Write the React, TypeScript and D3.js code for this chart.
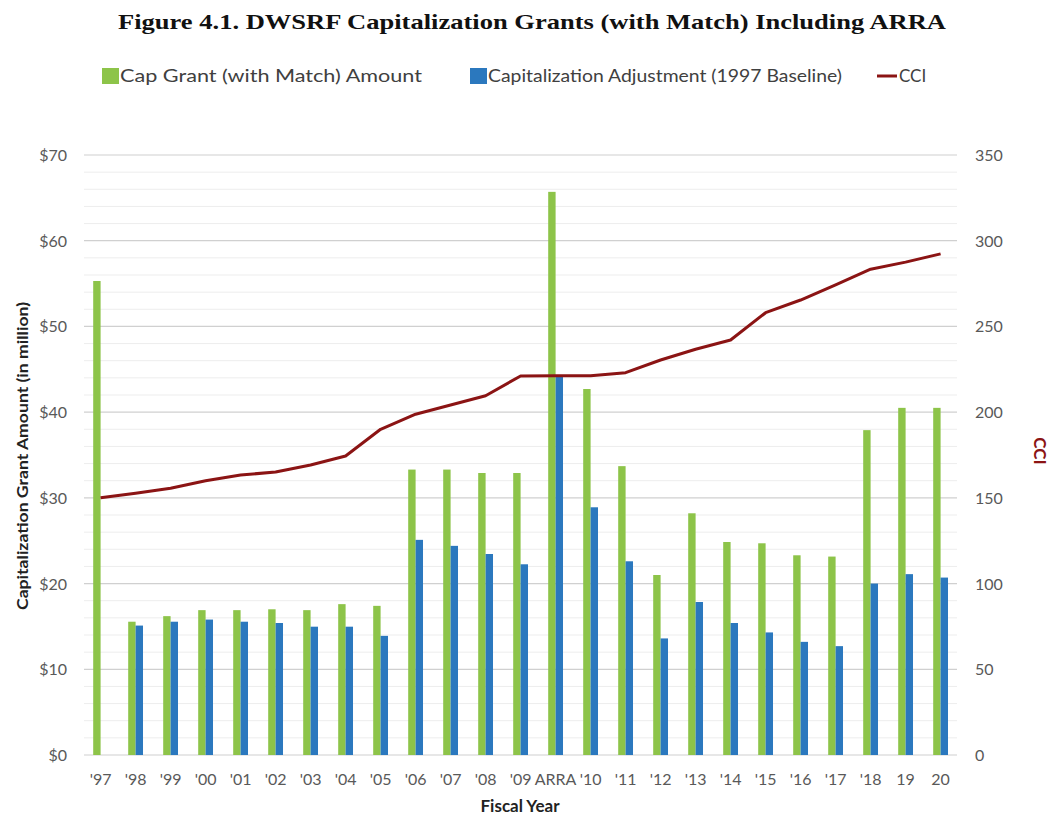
import React from "react";
import * as d3 from "d3";

const categories = ["'97","'98","'99","'00","'01","'02","'03","'04","'05","'06","'07","'08","'09","ARRA","'10","'11","'12","'13","'14","'15","'16","'17","'18","19","20"];
const capGrant = [55.3,15.55,16.2,16.9,16.9,17.0,16.9,17.6,17.4,33.3,33.3,32.9,32.9,65.7,42.7,33.7,21.0,28.2,24.85,24.7,23.3,23.15,37.9,40.5,40.5];
const capAdjust = [null,15.1,15.55,15.8,15.55,15.4,14.97,14.97,13.9,25.1,24.4,23.45,22.25,44.3,28.9,22.6,13.6,17.85,15.4,14.3,13.2,12.7,20.0,21.1,20.7];
const cci = [150,152.7,155.6,160,163.3,165.1,169.2,174.4,190,198.8,204.2,209.6,221.1,221.2,221.2,223,230.4,236.7,242.1,258,265.4,274.2,283.4,287.5,292.3];
const leftTicks = [0,10,20,30,40,50,60,70];
const rightTicks = [0,50,100,150,200,250,300,350];
const seriesNames = ["Cap Grant (with Match) Amount","Capitalization Adjustment (1997 Baseline)","CCI"];

const W = 1064, H = 816;
const GREEN = "#8DC449", BLUE = "#2B78BE", RED = "#8B1414";
const FONT = "Lato, 'Open Sans', sans-serif";

export default function App() {
  const x0 = d3.scaleBand<string>().domain(categories).range([83.1, 958.1]).paddingInner(0.577).paddingOuter(0.2885);
  const x1 = d3.scaleBand<string>().domain(["g","b"]).range([0, x0.bandwidth()]);
  const y = d3.scaleLinear().domain([0,70]).range([755,155]);
  const yR = d3.scaleLinear().domain([0,350]).range([755,155]);
  const cx = (c: string) => (x0(c) as number) + x0.bandwidth()/2;
  const minor = d3.range(0, 70.01, 2).filter(v => v % 10 !== 0);
  const line = d3.line<number>().x((_, i) => cx(categories[i])).y(v => yR(v));
  const gx1 = 84, gx2 = 957;
  return (
    <svg width={W} height={H} style={{position:"absolute", left:0, top:0, background:"#fff"}} fontFamily={FONT}>
      <text x={532} y={29} textAnchor="middle" fontFamily="'Liberation Serif', 'DejaVu Serif', serif" fontWeight="bold" fontSize={21} textLength={828} lengthAdjust="spacingAndGlyphs" fill="#111">Figure 4.1. DWSRF Capitalization Grants (with Match) Including ARRA</text>
      {/* legend */}
      <rect x={102} y={68} width={17} height={16} fill={GREEN}/>
      <text x={120} y={82} fontSize={17} fill="#404040" textLength={302} lengthAdjust="spacingAndGlyphs">{seriesNames[0]}</text>
      <rect x={470} y={68} width={17} height={16} fill={BLUE}/>
      <text x={488} y={82} fontSize={17} fill="#404040" textLength={354} lengthAdjust="spacingAndGlyphs">{seriesNames[1]}</text>
      <line x1={877} x2={897} y1={76} y2={76} stroke={RED} strokeWidth={3}/>
      <text x={899} y={82} fontSize={17} fill="#404040">{seriesNames[2]}</text>
      {/* gridlines */}
      {minor.map(v => <line key={"m"+v} x1={gx1} x2={gx2} y1={y(v)} y2={y(v)} stroke="#EDEDED" strokeWidth={1}/>)}
      {leftTicks.map(v => <line key={"g"+v} x1={gx1} x2={gx2} y1={y(v)} y2={y(v)} stroke="#D0D0D0" strokeWidth={1.2}/>)}
      {/* bars */}
      {categories.map((c, i) => (
        <g key={c}>
          <rect x={(x0(c) as number) + (x1("g") as number)} y={y(capGrant[i])} width={x1.bandwidth()} height={y(0) - y(capGrant[i])} fill={GREEN}/>
          {capAdjust[i] != null && <rect x={(x0(c) as number) + (x1("b") as number)} y={y(capAdjust[i] as number)} width={x1.bandwidth()} height={y(0) - y(capAdjust[i] as number)} fill={BLUE}/>}
        </g>
      ))}
      <path d={line(cci) || ""} fill="none" stroke={RED} strokeWidth={3} strokeLinejoin="round"/>
      {/* left ticks */}
      {leftTicks.map(v => <text key={"l"+v} x={67} y={y(v)+6} textAnchor="end" fontSize={16} fill="#595959">{"$" + v}</text>)}
      {rightTicks.map(v => <text key={"r"+v} x={975} y={yR(v)+6} textAnchor="start" fontSize={16} fill="#595959">{v}</text>)}
      {categories.map(c => <text key={"x"+c} x={cx(c)} y={785} textAnchor="middle" fontSize={16} fill="#595959">{c}</text>)}
      <text x={520} y={812} textAnchor="middle" fontSize={17} fontWeight="bold" fill="#222">Fiscal Year</text>
      <text transform={`translate(28,456) rotate(-90)`} textAnchor="middle" fontSize={15} fontWeight="bold" fill="#222" textLength={308} lengthAdjust="spacingAndGlyphs">Capitalization Grant Amount (in million)</text>
      <text transform={`translate(1034,451) rotate(90)`} textAnchor="middle" fontSize={17} fontWeight="bold" fill={RED}>CCI</text>
    </svg>
  );
}
